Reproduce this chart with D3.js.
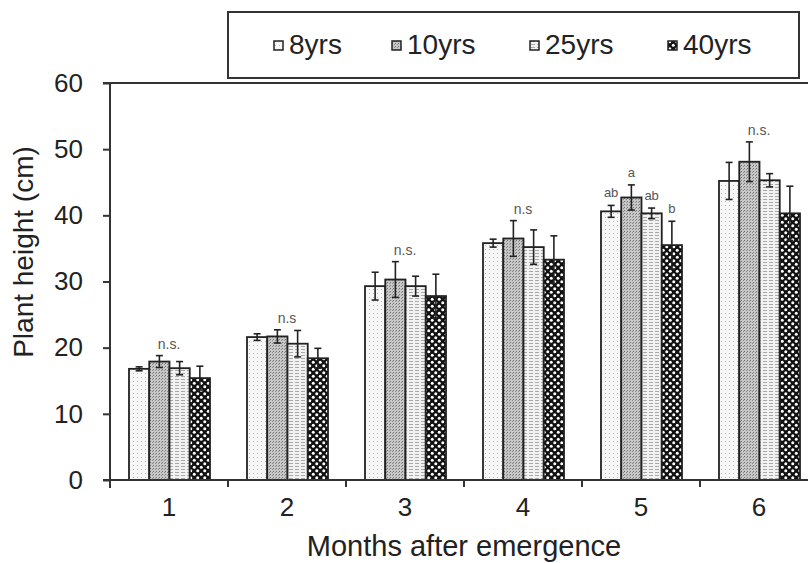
<!DOCTYPE html>
<html>
<head>
<meta charset="utf-8">
<script src="https://cdn.jsdelivr.net/npm/d3@7"></script>
<style>
  html, body { margin: 0; padding: 0; background: #fff; }
  svg { display: block; font-family: "Liberation Sans", Arial, Helvetica, sans-serif; }
</style>
</head>
<body>
<div id="chart"></div>
<script>
// Plant height by stand age, months after emergence
const months = ["1", "2", "3", "4", "5", "6"];
const series = ["8yrs", "10yrs", "25yrs", "40yrs"];

// means (cm), one array per series, in month order
const h8  = [16.8, 21.6, 29.3, 35.8, 40.6, 45.2];
const h10 = [17.9, 21.7, 30.3, 36.5, 42.7, 48.1];
const h25 = [16.9, 20.6, 29.3, 35.2, 40.3, 45.3];
const h40 = [15.4, 18.4, 27.8, 33.3, 35.5, 40.3];

// standard errors
const e8  = [0.3, 0.5, 2.1, 0.6, 0.9, 2.8];
const e10 = [0.9, 1.0, 2.7, 2.7, 1.9, 3.0];
const e25 = [1.0, 2.0, 1.5, 2.6, 0.8, 1.0];
const e40 = [1.8, 1.5, 3.3, 3.6, 3.6, 4.1];

// significance labels
const groupLabels = ["n.s.", "n.s", "n.s.", "n.s", "", "n.s."];
const month5Letters = ["ab", "a", "ab", "b"];

const yTicks = [0, 10, 20, 30, 40, 50, 60];

const W = 808, H = 563;
const plotLeft = 110, plotRight = 818, plotTop = 83, plotBottom = 480;

const svg = d3.select("#chart").append("svg")
  .attr("width", W).attr("height", H);

// fill patterns, one per stand age
const defs = svg.append("defs");

var p8 = defs.append("pattern").attr("id", "pat-8yrs")
  .attr("patternUnits", "userSpaceOnUse").attr("width", 4).attr("height", 4);
p8.append("rect").attr("width", 4).attr("height", 4).attr("fill", "#f7f7f7");
p8.append("rect").attr("x", 1).attr("y", 1).attr("width", 1).attr("height", 1).attr("fill", "#b8b8b8");

var p10 = defs.append("pattern").attr("id", "pat-10yrs")
  .attr("patternUnits", "userSpaceOnUse").attr("width", 3).attr("height", 3);
p10.append("rect").attr("width", 3).attr("height", 3).attr("fill", "#c8c8c8");
p10.append("rect").attr("x", 0).attr("y", 0).attr("width", 1).attr("height", 1).attr("fill", "#707070");
p10.append("rect").attr("x", 2).attr("y", 1).attr("width", 1).attr("height", 1).attr("fill", "#8a8a8a");

var p25 = defs.append("pattern").attr("id", "pat-25yrs")
  .attr("patternUnits", "userSpaceOnUse").attr("width", 6).attr("height", 3);
p25.append("rect").attr("width", 6).attr("height", 3).attr("fill", "#f2f2f2");
p25.append("rect").attr("x", 1).attr("y", 1).attr("width", 4).attr("height", 1).attr("fill", "#a8a8a8");

var p40 = defs.append("pattern").attr("id", "pat-40yrs")
  .attr("patternUnits", "userSpaceOnUse").attr("width", 7).attr("height", 7);
p40.append("rect").attr("width", 7).attr("height", 7).attr("fill", "#111");
p40.append("circle").attr("cx", 1.75).attr("cy", 1.75).attr("r", 1.5).attr("fill", "#fff");
p40.append("circle").attr("cx", 5.25).attr("cy", 5.25).attr("r", 1.5).attr("fill", "#fff");

const fills = {};
series.forEach(function (s) { fills[s] = "url(#pat-" + s + ")"; });

// scales
const x0 = d3.scaleBand().domain(months).range([plotLeft, plotRight]).padding(0);
const x1 = d3.scaleBand().domain(series).range([19, 100]).padding(0);
const y = d3.scaleLinear().domain([0, 60]).range([plotBottom, plotTop]);

// legend box
svg.append("rect")
  .attr("x", 228).attr("y", 12).attr("width", 571).attr("height", 66)
  .attr("fill", "#fff").attr("stroke", "#333").attr("stroke-width", 2);

const legendX = [274, 392, 530, 668];
const legend = svg.append("g").selectAll("g")
  .data(series)
  .join("g")
  .attr("transform", function (d, i) { return "translate(" + legendX[i] + ",40)"; });
legend.append("rect")
  .attr("y", 1)
  .attr("width", 9).attr("height", 9)
  .attr("fill", function (d) { return fills[d]; })
  .attr("stroke", "#222").attr("stroke-width", 1.5);
legend.append("text")
  .attr("x", 15).attr("y", 14)
  .attr("font-size", 28).attr("fill", "#222")
  .text(function (d) { return d; });

// top frame line
svg.append("line")
  .attr("x1", plotLeft - 7).attr("x2", W)
  .attr("y1", plotTop).attr("y2", plotTop)
  .attr("stroke", "#333").attr("stroke-width", 2);

// bars
const rows = [];
months.forEach(function (m, i) {
  rows.push({ month: m, s: "8yrs",  v: h8[i],  e: e8[i] });
  rows.push({ month: m, s: "10yrs", v: h10[i], e: e10[i] });
  rows.push({ month: m, s: "25yrs", v: h25[i], e: e25[i] });
  rows.push({ month: m, s: "40yrs", v: h40[i], e: e40[i] });
});

const bars = svg.append("g");
bars.selectAll("rect")
  .data(rows)
  .join("rect")
  .attr("x", function (d) { return x0(d.month) + x1(d.s); })
  .attr("y", function (d) { return y(d.v); })
  .attr("width", x1.bandwidth())
  .attr("height", function (d) { return y(0) - y(d.v); })
  .attr("fill", function (d) { return fills[d.s]; })
  .attr("stroke", "#222").attr("stroke-width", 1.8);

// error bars
const err = svg.append("g").attr("stroke", "#222").attr("stroke-width", 1.6);
const cx = function (d) { return x0(d.month) + x1(d.s) + x1.bandwidth() / 2; };
err.selectAll("line.stem")
  .data(rows).join("line").attr("class", "stem")
  .attr("x1", cx).attr("x2", cx)
  .attr("y1", function (d) { return y(d.v + d.e); })
  .attr("y2", function (d) { return y(d.v - d.e); });
err.selectAll("line.capTop")
  .data(rows).join("line").attr("class", "capTop")
  .attr("x1", function (d) { return cx(d) - 3.5; })
  .attr("x2", function (d) { return cx(d) + 3.5; })
  .attr("y1", function (d) { return y(d.v + d.e); })
  .attr("y2", function (d) { return y(d.v + d.e); });
err.selectAll("line.capBot")
  .data(rows).join("line").attr("class", "capBot")
  .attr("x1", function (d) { return cx(d) - 3.5; })
  .attr("x2", function (d) { return cx(d) + 3.5; })
  .attr("y1", function (d) { return y(d.v - d.e); })
  .attr("y2", function (d) { return y(d.v - d.e); });

// significance labels above groups
svg.append("g").selectAll("text")
  .data(months)
  .join("text")
  .attr("x", function (m) { return x0(m) + 59; })
  .attr("y", function (m) {
    var hi = d3.max(rows.filter(function (r) { return r.month === m; }),
      function (r) { return r.v + r.e; });
    return y(hi) - 7;
  })
  .attr("text-anchor", "middle")
  .attr("font-size", 14).attr("fill", "#555")
  .text(function (m, i) { return groupLabels[i]; });

// letters for month 5
svg.append("g").selectAll("text")
  .data(rows.filter(function (r) { return r.month === "5"; }))
  .join("text")
  .attr("x", cx)
  .attr("y", function (d) { return y(d.v + d.e) - 8; })
  .attr("text-anchor", "middle")
  .attr("font-size", 13).attr("fill", "#555")
  .text(function (d, i) { return month5Letters[i]; });

// axes
const yAxis = svg.append("g")
  .attr("transform", "translate(" + plotLeft + ",0)")
  .call(d3.axisLeft(y).tickValues(yTicks).tickSize(7).tickSizeOuter(0).tickPadding(20));
yAxis.select(".domain").remove();
yAxis.append("line")
  .attr("x1", 0).attr("x2", 0).attr("y1", plotTop).attr("y2", plotBottom + 8)
  .attr("stroke", "#333").attr("stroke-width", 2);
yAxis.selectAll(".tick line").attr("stroke", "#333").attr("stroke-width", 2);
yAxis.selectAll(".tick text")
  .attr("font-size", 26).attr("fill", "#222")
  .attr("font-family", "'Liberation Sans', Arial, sans-serif");

const xAxis = svg.append("g")
  .attr("transform", "translate(0," + plotBottom + ")")
  .call(d3.axisBottom(x0).tickSize(0).tickPadding(18));
xAxis.select(".domain").remove();
xAxis.append("line")
  .attr("x1", plotLeft - 7).attr("x2", W).attr("y1", 0).attr("y2", 0)
  .attr("stroke", "#333").attr("stroke-width", 2);
xAxis.selectAll(".tick text")
  .attr("font-size", 26).attr("fill", "#222")
  .attr("font-family", "'Liberation Sans', Arial, sans-serif");
// tick marks between month groups
xAxis.selectAll("line.sep")
  .data(months)
  .join("line").attr("class", "sep")
  .attr("x1", function (m) { return x0(m); })
  .attr("x2", function (m) { return x0(m); })
  .attr("y1", 0).attr("y2", 7)
  .attr("stroke", "#333").attr("stroke-width", 2);

// axis titles
svg.append("text")
  .attr("x", (plotLeft + plotRight) / 2).attr("y", 556)
  .attr("text-anchor", "middle")
  .attr("font-size", 29).attr("fill", "#222")
  .text("Months after emergence");

svg.append("text")
  .attr("transform", "translate(33,252) rotate(-90)")
  .attr("text-anchor", "middle")
  .attr("font-size", 28).attr("fill", "#222")
  .text("Plant height (cm)");
</script>
</body>
</html>
